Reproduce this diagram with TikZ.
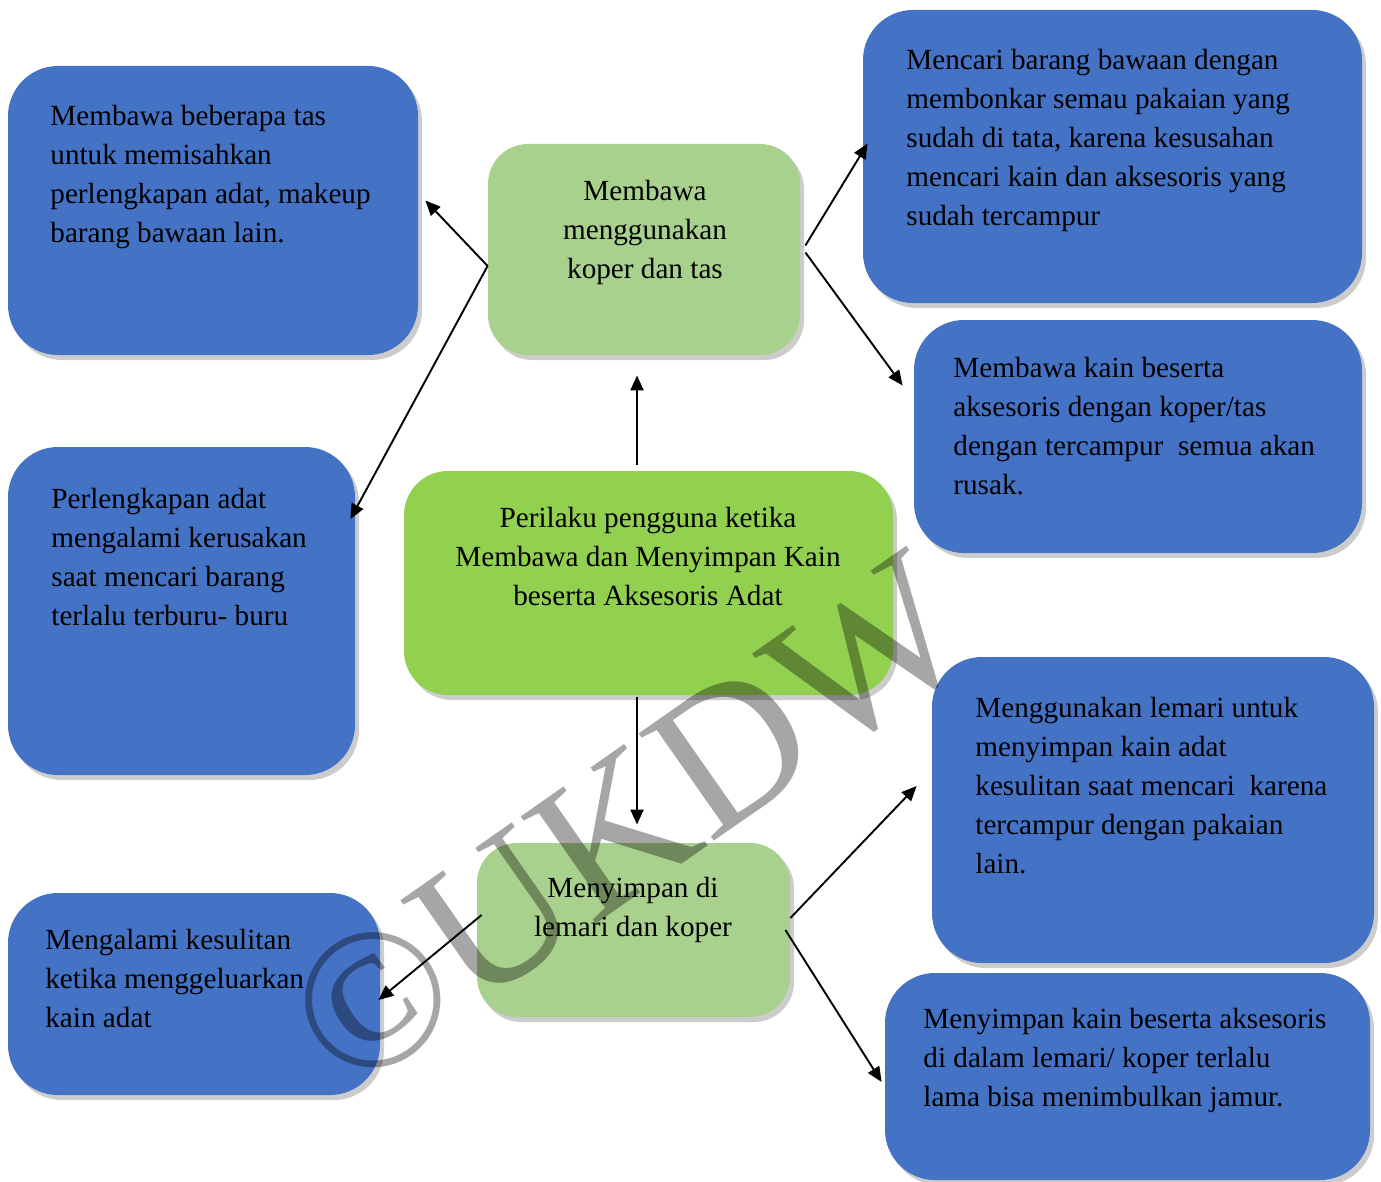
\documentclass[tikz,border=0pt]{standalone}
\usepackage{fontspec}
\setmainfont{Liberation Serif}
\usetikzlibrary{arrows.meta,shadows}

\definecolor{boxblue}{HTML}{4472C4}
\definecolor{softgreen}{HTML}{A9D18E}
\definecolor{maingreen}{HTML}{92D050}

\tikzset{
	boxshadow/.style={drop shadow={shadow xshift=2pt, shadow yshift=-2.5pt, fill=black!40}},
	bluebox/.style={fill=boxblue, rounded corners=25pt, inner sep=0, boxshadow},
	greenbox/.style={fill=softgreen, rounded corners=20pt, inner sep=0, boxshadow},
	centerbox/.style={fill=maingreen, rounded corners=22pt, inner sep=0, boxshadow},
	boxtext/.style={inner sep=0, align=left, anchor=north west,
		font=\fontsize{14.6}{19.5}\selectfont},
	greentext/.style={inner sep=0, align=center, anchor=north,
		font=\fontsize{14.6}{19.5}\selectfont},
	arr/.style={-{Triangle[length=7.5pt,width=6.5pt]}, line width=0.95pt},
	stamptext/.style={text=black, text opacity=0.35, inner sep=0,
		font=\fontsize{100}{100}\selectfont}
}

\begin{document}
\begin{tikzpicture}[x=0.5pt, y=-0.5pt]
			\useasboundingbox (0, 0) rectangle (1381, 1182);

			% left column
			\node[bluebox, minimum width=205pt, minimum height=144.5pt]
				(b1) at (213, 210.5) {};
			\node[bluebox, minimum width=173.5pt, minimum height=164pt]
				(b2) at (181.5, 611) {};
			\node[bluebox, minimum width=186pt, minimum height=101pt]
				(b3) at (194, 994) {};

			% middle column
			\node[greenbox, minimum width=156pt, minimum height=105.5pt]
				(g1) at (644, 249.5) {};
			\node[centerbox, minimum width=244.5pt, minimum height=112pt]
				(g0) at (648.5, 583) {};
			\node[greenbox, minimum width=156.5pt, minimum height=87pt]
				(g2) at (633.5, 930) {};

			% right column
			\node[bluebox, minimum width=249.5pt, minimum height=146.5pt]
				(b4) at (1112.5, 156.5) {};
			\node[bluebox, minimum width=224pt, minimum height=116.5pt]
				(b5) at (1138, 436.5) {};
			\node[bluebox, minimum width=221pt, minimum height=153pt]
				(b6) at (1153, 810) {};
			\node[bluebox, minimum width=242.5pt, minimum height=103.5pt]
				(b7) at (1127.5, 1076.5) {};

			% texts
			\node[boxtext] (t1) at (50, 105)
				{Membawa beberapa tas\\untuk memisahkan\\perlengkapan adat, makeup\\barang bawaan lain.};
			\node[boxtext] (t2) at (51, 488)
				{Perlengkapan adat\\mengalami kerusakan\\saat mencari barang\\terlalu terburu- buru};
			\node[boxtext] (t3) at (45, 929)
				{Mengalami kesulitan\\ketika menggeluarkan\\kain adat};
			\node[greentext] (s1) at (645, 180)
				{Membawa\\menggunakan\\koper dan tas};
			\node[greentext] (s0) at (648, 507)
				{Perilaku pengguna ketika\\Membawa dan Menyimpan Kain\\beserta Aksesoris Adat};
			\node[greentext] (s2) at (633, 877)
				{Menyimpan di\\lemari dan koper};
			\node[boxtext] (t4) at (906, 49)
				{Mencari barang bawaan dengan\\membonkar semau pakaian yang\\sudah di tata, karena kesusahan\\mencari kain dan aksesoris yang\\sudah tercampur};
			\node[boxtext] (t5) at (953, 357)
				{Membawa kain beserta\\aksesoris dengan koper/tas\\dengan tercampur\ \ semua akan\\rusak.};
			\node[boxtext] (t6) at (975, 697)
				{Menggunakan lemari untuk\\menyimpan kain adat\\kesulitan saat mencari\ \ karena\\tercampur dengan pakaian\\lain.};
			\node[boxtext] (t7) at (923, 1008)
				{Menyimpan kain beserta aksesoris\\di dalam lemari/ koper terlalu\\lama bisa menimbulkan jamur.};

			% arrows
			\draw[arr]
				(g1.186) -- ([shift={(7,-10)}]b1.east);
			\draw[arr]
				(g1.186) -- ([shift={(-5,-92)}]b2.east);
			\draw[arr]
				([shift={(5,-4)}]g1.east) -- ([shift={(5,-13)}]b4.west);
			\draw[arr]
				([shift={(5,3)}]g1.east) -- ([shift={(-11,-51)}]b5.west);
			\draw[arr]
				([shift={(-11.5,-6)}]g0.north) -- ([shift={(-7,20)}]g1.south);
			\draw[arr]
				([shift={(-11.5,2)}]g0.south) -- ([shift={(3.5,-18)}]g2.north);
			\draw[arr]
				([shift={(5,-15)}]g2.west) -- ([shift={(-2,6)}]b3.east);
			\draw[arr]
				([shift={(0,-12)}]g2.east) -- ([shift={(-15,-24)}]b6.west);
			\draw[arr]
				([shift={(-5,0)}]g2.east) -- ([shift={(-3,5.5)}]b7.west);

			% stamp
			\node[stamptext, rotate=35] (stamp) at (628, 822) {©UKDW};

		\end{tikzpicture}
\end{document}
